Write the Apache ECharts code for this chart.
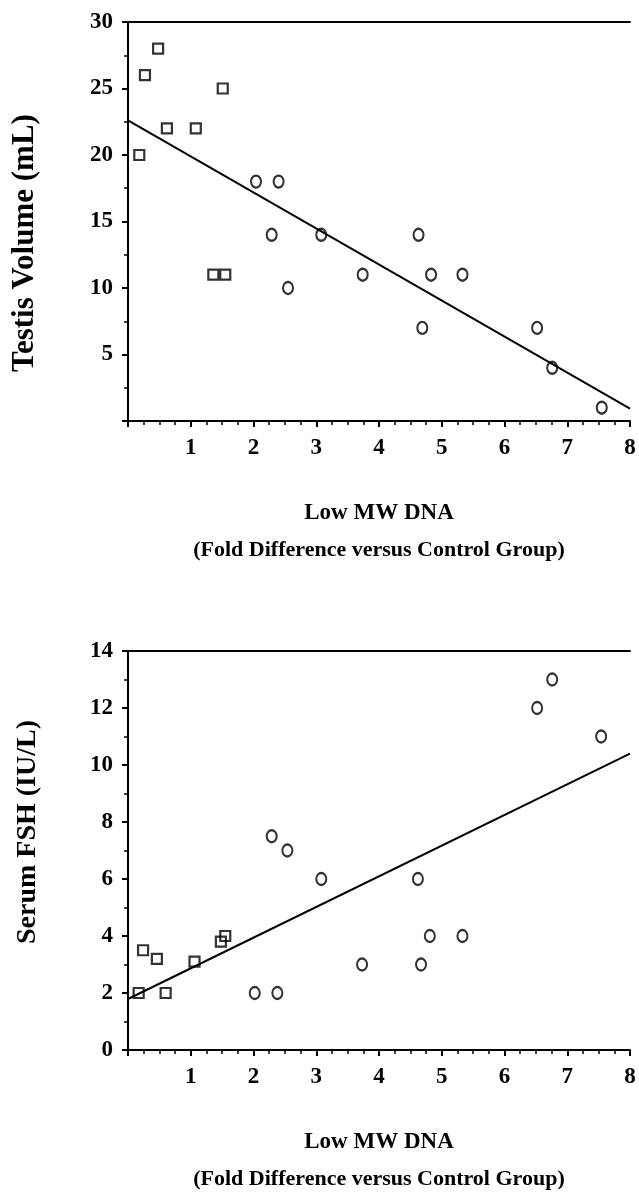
<!DOCTYPE html>
<html>
<head>
<meta charset="utf-8">
<script src="https://cdn.jsdelivr.net/npm/echarts@6/dist/echarts.min.js"></script>
<style>
  html, body { margin: 0; padding: 0; background: #fff; }
  #chart { width: 639px; height: 1192px; }
</style>
</head>
<body>
<div id="chart"></div>
<script>
// testis volume panel (top)
const volCtrlX = [0.18, 0.27, 0.48, 0.62, 1.08, 1.36, 1.51, 1.55];
const volCtrlY = [20, 26, 28, 22, 22, 11, 25, 11];
const volPatX = [2.04, 2.29, 2.40, 2.55, 3.08, 3.74, 4.63, 4.69, 4.83, 5.33, 6.52, 6.76, 7.55];
const volPatY = [18, 14, 18, 10, 14, 11, 14, 7, 11, 11, 7, 4, 1];
const volFitX = [0, 8];
const volFitY = [22.6, 0.93];

// serum FSH panel (bottom)
const fshCtrlX = [0.17, 0.24, 0.46, 0.60, 1.06, 1.48, 1.55];
const fshCtrlY = [2, 3.5, 3.2, 2, 3.1, 3.8, 4];
const fshPatX = [2.02, 2.29, 2.38, 2.54, 3.08, 3.73, 4.62, 4.67, 4.81, 5.33, 6.52, 6.76, 7.54];
const fshPatY = [2, 7.5, 2, 7, 6, 3, 6, 3, 4, 4, 12, 13, 11];
const fshFitX = [0, 8];
const fshFitY = [1.79, 10.4];

const xName = 'Low MW DNA';
const xSubName = '(Fold Difference versus Control Group)';
const yNames = ['Testis Volume (mL)', 'Serum FSH (IU/L)'];

const FONT = '"Liberation Serif", "DejaVu Serif", serif';
const zip = (xs, ys) => xs.map((x, i) => [x, ys[i]]);

const grids = [
  { left: 128, top: 22, width: 502, height: 399 },
  { left: 128, top: 651, width: 502, height: 399 }
];

function bottomAxis(gi) {
  return {
    type: 'value', gridIndex: gi, position: 'bottom',
    min: 0, max: 8, interval: 1,
    axisLine: { onZero: false, lineStyle: { color: '#000', width: 2 } },
    axisTick: { show: true, length: 6, inside: false, lineStyle: { color: '#000', width: 2 } },
    minorTick: { show: true, splitNumber: 4, length: 4, lineStyle: { color: '#000', width: 1.5 } },
    splitLine: { show: false },
    axisLabel: {
      margin: 16, color: '#000', fontFamily: FONT, fontWeight: 'bold', fontSize: 23,
      formatter: (v) => (v === 0 ? '' : String(v))
    }
  };
}

function topAxis(gi) {
  return {
    type: 'value', gridIndex: gi, position: 'top',
    min: 0, max: 8,
    axisLine: { onZero: false, lineStyle: { color: '#000', width: 2 } },
    axisTick: { show: false }, axisLabel: { show: false }, splitLine: { show: false }
  };
}

function leftAxis(gi, max, interval, hideZero) {
  return {
    type: 'value', gridIndex: gi, min: 0, max: max, interval: interval,
    axisLine: { onZero: false, lineStyle: { color: '#000', width: 2 } },
    axisTick: { show: true, length: 6, lineStyle: { color: '#000', width: 2 } },
    minorTick: { show: true, splitNumber: 2, length: 4, lineStyle: { color: '#000', width: 1.5 } },
    splitLine: { show: false },
    axisLabel: {
      margin: 15, color: '#000', fontFamily: FONT, fontWeight: 'bold', fontSize: 23,
      formatter: (v) => (hideZero && v === 0 ? '' : String(v))
    }
  };
}

function squares(xi, data) {
  return {
    type: 'scatter', xAxisIndex: xi, yAxisIndex: xi, data: data,
    symbol: 'rect', symbolSize: 10, z: 3,
    itemStyle: { color: 'rgba(0,0,0,0)', borderColor: '#000', borderWidth: 2.2 }
  };
}

function circles(xi, data) {
  return {
    type: 'scatter', xAxisIndex: xi, yAxisIndex: xi, data: data,
    symbol: 'circle', symbolSize: [10, 12], z: 3,
    itemStyle: { color: 'rgba(0,0,0,0)', borderColor: '#000', borderWidth: 2.2 }
  };
}

function fitLine(xi, data) {
  return {
    type: 'line', xAxisIndex: xi, yAxisIndex: xi, data: data,
    showSymbol: false, silent: true, z: 2,
    lineStyle: { color: '#000', width: 2 }
  };
}

function texts() {
  const out = [];
  grids.forEach((g, i) => {
    const cx = g.left + g.width / 2;
    const axisY = g.top + g.height;
    out.push({
      type: 'text', x: cx, y: axisY + 92,
      style: { text: xName, font: 'bold 23px ' + FONT, fill: '#000', align: 'center', verticalAlign: 'middle' }
    });
    out.push({
      type: 'text', x: cx, y: axisY + 129,
      style: { text: xSubName, font: 'bold 22px ' + FONT, fill: '#000', align: 'center', verticalAlign: 'middle' }
    });
  });
  out.push({
    type: 'text', x: 25, y: 243, rotation: Math.PI / 2,
    style: { text: yNames[0], font: 'bold 31px ' + FONT, fill: '#000', align: 'center', verticalAlign: 'middle' }
  });
  out.push({
    type: 'text', x: 28, y: 832, rotation: Math.PI / 2,
    style: { text: yNames[1], font: 'bold 28px ' + FONT, fill: '#000', align: 'center', verticalAlign: 'middle' }
  });
  return out;
}

const myChart = echarts.init(document.getElementById('chart'), null, { renderer: 'canvas' });

const option = {
  backgroundColor: '#fff',
  animation: false,
  grid: grids,
  xAxis: [bottomAxis(0), bottomAxis(1), topAxis(0), topAxis(1)],
  yAxis: [leftAxis(0, 30, 5, true), leftAxis(1, 14, 2, false)],
  series: [
    fitLine(0, zip(volFitX, volFitY)),
    squares(0, zip(volCtrlX, volCtrlY)),
    circles(0, zip(volPatX, volPatY)),
    fitLine(1, zip(fshFitX, fshFitY)),
    squares(1, zip(fshCtrlX, fshCtrlY)),
    circles(1, zip(fshPatX, fshPatY))
  ],
  graphic: texts()
};

myChart.setOption(option);
</script>
</body>
</html>
